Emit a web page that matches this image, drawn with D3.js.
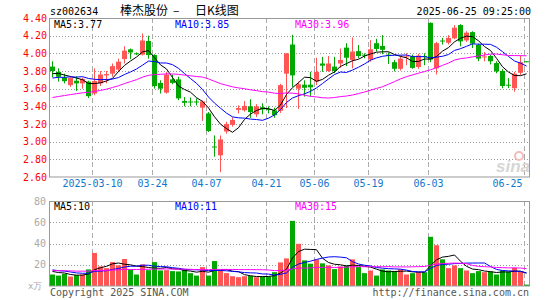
<!DOCTYPE html>
<html>
<head>
<meta charset="utf-8">
<script src="https://cdn.jsdelivr.net/npm/d3@7"></script>
<style>
  body { margin: 0; background: #fff; }
  text { font-family: "DejaVu Sans Mono", monospace; font-size: 10px; }
</style>
</head>
<body>
<script>
var w = 545, h = 300;

// trading days shown (80)
var dates = ["2025-02-27","2025-02-28","2025-03-03","2025-03-04","2025-03-05","2025-03-06","2025-03-07",
  "2025-03-10","2025-03-11","2025-03-12","2025-03-13","2025-03-14","2025-03-17","2025-03-18","2025-03-19",
  "2025-03-20","2025-03-21","2025-03-24","2025-03-25","2025-03-26","2025-03-27","2025-03-28","2025-03-31",
  "2025-04-01","2025-04-02","2025-04-03","2025-04-07","2025-04-08","2025-04-09","2025-04-10","2025-04-11",
  "2025-04-14","2025-04-15","2025-04-16","2025-04-17","2025-04-18","2025-04-21","2025-04-22","2025-04-23",
  "2025-04-24","2025-04-25","2025-04-28","2025-04-29","2025-04-30","2025-05-06","2025-05-07","2025-05-08",
  "2025-05-09","2025-05-12","2025-05-13","2025-05-14","2025-05-15","2025-05-16","2025-05-19","2025-05-20",
  "2025-05-21","2025-05-22","2025-05-23","2025-05-26","2025-05-27","2025-05-28","2025-05-29","2025-05-30",
  "2025-06-03","2025-06-04","2025-06-05","2025-06-06","2025-06-09","2025-06-10","2025-06-11","2025-06-12",
  "2025-06-13","2025-06-16","2025-06-17","2025-06-18","2025-06-19","2025-06-20","2025-06-23","2025-06-24",
  "2025-06-25"];

var open = [3.85,3.79,3.725,3.64,3.69,3.66,3.68,3.545,3.66,3.75,3.77,3.815,3.935,4.045,4.00,3.985,4.14,3.98,
  3.665,3.555,3.705,3.705,3.46,3.455,3.455,3.385,3.32,2.945,2.845,3.115,3.19,3.36,3.355,3.40,3.31,3.39,3.37,
  3.355,3.35,3.77,4.10,3.60,3.645,3.645,3.68,3.885,3.80,3.85,3.885,4.065,3.925,4.025,3.985,3.93,4.115,4.083,
  3.985,3.90,3.825,3.96,3.965,3.845,3.97,4.345,3.83,4.145,4.12,4.17,4.32,4.147,4.24,4.095,3.955,3.97,3.89,
  3.80,3.645,3.605,3.78,3.91];
var high = [3.91,3.83,3.77,3.73,3.74,3.725,3.69,3.83,3.80,3.80,3.885,3.94,4.08,4.055,4.01,4.225,4.20,3.99,
  3.695,3.79,3.76,3.735,3.505,3.50,3.49,3.465,3.335,3.07,3.07,3.225,3.275,3.41,3.46,3.48,3.425,3.435,3.40,
  3.385,3.655,4.00,4.21,3.68,3.695,3.79,3.95,3.96,3.97,3.96,4.055,4.115,4.18,4.095,4.00,4.15,4.165,4.205,
  4.01,3.925,3.975,4.00,3.985,3.995,4.00,4.35,4.13,4.175,4.205,4.32,4.33,4.25,4.25,4.11,4.015,3.985,3.91,
  3.82,3.72,3.79,3.975,3.91];
var low = [3.73,3.68,3.66,3.62,3.575,3.60,3.495,3.525,3.63,3.66,3.735,3.79,3.885,3.935,3.98,3.975,3.94,3.60,
  3.545,3.545,3.65,3.47,3.40,3.40,3.41,3.235,3.11,2.83,2.655,3.09,3.17,3.32,3.34,3.27,3.28,3.31,3.32,
  3.27,3.325,3.38,3.62,3.37,3.51,3.51,3.64,3.79,3.79,3.775,3.835,3.855,3.83,3.945,3.945,3.905,4.02,3.99,
  3.88,3.795,3.805,3.865,3.825,3.825,3.865,3.90,3.76,4.10,4.10,4.16,4.08,4.13,4.06,3.91,3.91,3.875,3.775,
  3.605,3.605,3.565,3.755,3.90];
var close = [3.80,3.735,3.685,3.72,3.66,3.71,3.515,3.685,3.76,3.765,3.855,3.905,4.03,4.01,3.99,4.145,3.98,3.63,
  3.60,3.76,3.665,3.49,3.44,3.445,3.45,3.455,3.12,2.94,3.025,3.20,3.245,3.38,3.405,3.335,3.40,3.365,3.365,
  3.30,3.64,4.00,3.75,3.65,3.61,3.615,3.79,3.86,3.885,3.80,3.925,3.95,4.02,3.97,3.98,4.045,4.05,4.04,
  3.975,3.825,3.94,3.965,3.835,3.975,3.965,3.93,4.115,4.14,4.175,4.29,4.135,4.234,4.11,3.94,3.965,3.91,3.795,
  3.63,3.64,3.77,3.90,3.90];
// volume, in 万手
var volume = [10.8,9.8,11.4,8.9,10.2,10.8,15.6,31.1,18.4,16.8,22.5,19.4,25.4,15.6,10.8,20.3,14.9,22.5,14.6,
  14.9,14.0,13.7,15.6,12.1,9.8,17.8,9.8,23.5,14.6,12.1,9.2,8.3,9.2,9.5,8.3,8.9,8.9,13.0,22.2,26.0,61.3,39.7,
  24.1,21.0,24.8,21.3,19.4,15.9,18.4,19.4,25.1,17.8,12.1,14.6,9.8,15.6,14.6,13.7,15.6,10.8,12.1,13.3,13.0,
  46.3,38.4,25.1,16.8,19.4,16.8,14.6,12.1,14.0,13.0,13.7,10.8,14.6,13.7,17.1,13.7,1.3];

// sessions before the window, estimated from where the MA lines start
var priorCloses = [3.40,3.36,3.39,3.35,3.41,3.37,3.38,3.41,3.33,3.30,3.31,3.29,3.34,3.32,3.30,3.36,3.36,
  3.52,3.62,3.68,3.64,3.70,3.66,3.69,3.66,3.72,3.78,3.80,3.75];
var priorVolumes = [14,13,15,16,12,14,15,13,17,14,15,12,16,14,13,15,14,16,13,15,18,15,17,19,14.5,15,13.5,16,13.2];

var priceTicks = [2.6,2.8,3.0,3.2,3.4,3.6,3.8,4.0,4.2,4.4];
var volTicks = [20,40,60,80];
var tickDates = ["2025-03-10","2025-03-24","2025-04-07","2025-04-21","2025-05-06","2025-05-19","2025-06-03","2025-06-25"];
var tickLabels = ["2025-03-10","03-24","04-07","04-21","05-06","05-19","06-03","06-25"];
var priceMaLabels = ["MA5:3.77","MA10:3.85","MA30:3.96"];
var volMaLabels = ["MA5:10","MA10:11","MA30:15"];
var maColors = ["#000","#00f","#f0f"];
var maDays = [5,10,30];

var red = "#ff5555", green = "#00a800", grid = "#aaa";

var svg = d3.select("body").append("svg")
  .attr("width", w).attr("height", h);

var x = d3.scaleBand().domain(dates).range([50, 530]);
var y = d3.scaleLinear().domain([2.6, 4.4]).range([177, 18]);
var yv = d3.scaleLinear().domain([0, 80]).range([286, 201]);
var idx = dates.map(function(d, i){ return i; });

function ma(prior, vals, n) {
  var all = prior.concat(vals), off = prior.length;
  return vals.map(function(v, i){
    return d3.mean(all.slice(off + i - n + 1, off + i + 1));
  });
}
function col(i){ return close[i] > open[i] ? red : green; }

// ---- header
svg.append("text").attr("x", 50).attr("y", 15).text("sz002634");
var cjk = "'Noto Sans CJK SC'";
svg.append("text").attr("x", 120).attr("y", 14.5)
  .style("font-family", cjk).style("font-size", "12px").text("棒杰股份");
svg.append("text").attr("x", 173).attr("y", 14.5)
  .style("font-family", cjk).style("font-size", "12px").text("–");
svg.append("text").attr("x", 195).attr("y", 14.5)
  .style("font-family", cjk).style("font-size", "12px").text("日K线图");
svg.append("text").attr("x", 531).attr("y", 15).attr("text-anchor", "end").text("2025-06-25 09:25:00");

// ---- grids
function hgrid(g, scale, vals) {
  g.selectAll(".hg").data(vals).enter().append("line")
    .attr("x1", 50).attr("x2", 530)
    .attr("y1", function(d){ return Math.round(scale(d)) + 0.5; })
    .attr("y2", function(d){ return Math.round(scale(d)) + 0.5; })
    .style("stroke", "#999").style("stroke-dasharray", "1,2");
}
function vgrid(g, y0, y1) {
  g.selectAll(".vg").data(tickDates).enter().append("line")
    .attr("x1", function(d){ return x(d) + 0.5; })
    .attr("x2", function(d){ return x(d) + 0.5; })
    .attr("y1", y0).attr("y2", y1)
    .style("stroke", grid).style("stroke-dasharray", "5,3");
}
var gGrid = svg.append("g");
hgrid(gGrid, y, [2.8,3.0,3.2,3.4,3.6,3.8,4.0,4.2]);
hgrid(gGrid, yv, [20,40,60]);
vgrid(gGrid, 18, 177);
vgrid(gGrid, 201, 286);

// sina watermark
svg.append("text").attr("x", 496).attr("y", 172)
  .style("font-family", "'Liberation Sans'").style("font-size", "17px")
  .style("font-weight", "bold").style("font-style", "italic")
  .style("fill", "#d6d6d6").text("sina");
svg.append("circle").attr("cx", 519).attr("cy", 156).attr("r", 4)
  .style("fill", "none").style("stroke", "#f2bcbc").style("stroke-width", 2);

// ---- candles
var k = svg.append("g");
k.selectAll(".wick").data(idx).enter().append("line")
  .attr("x1", function(i){ return x(dates[i]) + 2.5; })
  .attr("x2", function(i){ return x(dates[i]) + 2.5; })
  .attr("y1", function(i){ return y(high[i]); })
  .attr("y2", function(i){ return y(low[i]); })
  .style("stroke", col);
k.selectAll(".body").data(idx).enter().append("rect")
  .attr("x", function(i){ return x(dates[i]); })
  .attr("width", 5)
  .attr("y", function(i){ return y(Math.max(open[i], close[i])); })
  .attr("height", function(i){ return Math.max(1, Math.abs(y(open[i]) - y(close[i]))); })
  .style("fill", col);

// ---- volume bars
svg.append("g").selectAll(".vol").data(idx).enter().append("rect")
  .attr("x", function(i){ return x(dates[i]); })
  .attr("width", 5)
  .attr("y", function(i){ return yv(volume[i]); })
  .attr("height", function(i){ return yv(0) - yv(volume[i]); })
  .style("fill", col);

// ---- moving averages
maDays.forEach(function(n, j){
  var pm = ma(priorCloses, close, n), vm = ma(priorVolumes, volume, n);
  svg.append("path").datum(idx)
    .attr("d", d3.line().x(function(i){ return x(dates[i]) + 2.5; }).y(function(i){ return y(pm[i]); }))
    .style("fill", "none").style("stroke", maColors[j]);
  svg.append("path").datum(idx)
    .attr("d", d3.line().x(function(i){ return x(dates[i]) + 2.5; }).y(function(i){ return yv(vm[i]); }))
    .style("fill", "none").style("stroke", maColors[j]);
});

// ---- frames
svg.append("rect").attr("x", 49.5).attr("y", 18.5).attr("width", 480).attr("height", 158.5)
  .style("fill", "none").style("stroke", "#999");
svg.append("rect").attr("x", 49.5).attr("y", 201.5).attr("width", 480).attr("height", 84.5)
  .style("fill", "none").style("stroke", "#999");

// ---- axes
var yAxis = svg.append("g").attr("transform", "translate(50,0)")
  .call(d3.axisLeft(y).tickValues(priceTicks).tickFormat(d3.format(".2f")).tickSize(0).tickPadding(3));
var vAxis = svg.append("g").attr("transform", "translate(50,0)")
  .call(d3.axisLeft(yv).tickValues(volTicks).tickSize(0).tickPadding(4));
var xAxis = svg.append("g").attr("transform", "translate(-2.5,180)")
  .call(d3.axisBottom(x).tickValues(tickDates)
    .tickFormat(function(d, i){ return tickLabels[i]; }).tickSize(0).tickPadding(0));
[yAxis, vAxis, xAxis].forEach(function(a){
  a.select(".domain").remove();
  a.selectAll("text").style("font-family", "'DejaVu Sans Mono'").style("font-size", "10px");
});
yAxis.selectAll("text").style("fill", "#f00");
vAxis.selectAll("text").style("fill", "#aaa");
xAxis.selectAll("text").style("fill", "#1177cc");
xAxis.selectAll(".tick").filter(function(d){ return d == "2025-06-25"; })
  .select("text").attr("text-anchor", "end").attr("dx", -2);

// ---- MA labels
var labX = [54, 175, 295];
priceMaLabels.forEach(function(t, j){
  svg.append("text").attr("x", labX[j]).attr("y", 27.5).style("fill", maColors[j]).text(t);
});
volMaLabels.forEach(function(t, j){
  svg.append("text").attr("x", labX[j]).attr("y", 209.5).style("fill", maColors[j]).text(t);
});

// ---- footer
svg.append("text").attr("x", 28).attr("y", 289)
  .style("fill", "#aaa").style("font-size", "9px").text("x万");
svg.append("text").attr("x", 50).attr("y", 295.5).style("fill", "#555").text("Copyright 2025 SINA.COM");
svg.append("text").attr("x", 529).attr("y", 295.5).attr("text-anchor", "end")
  .style("fill", "#555").text("http://finance.sina.com.cn");
</script>
</body>
</html>
